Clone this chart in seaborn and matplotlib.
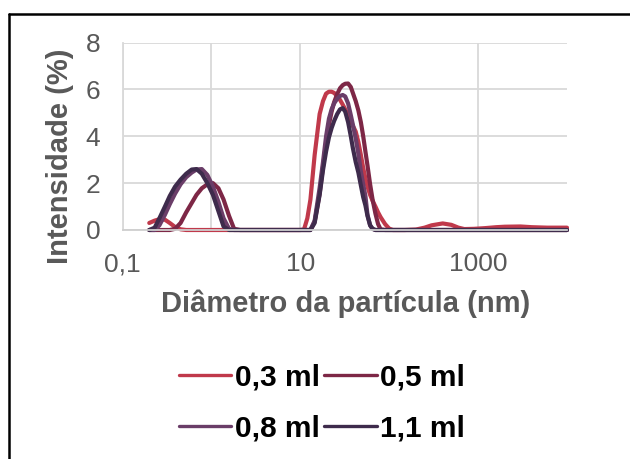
import numpy as np
import pandas as pd
import matplotlib
matplotlib.use("Agg")
import matplotlib.pyplot as plt
import seaborn as sns
from matplotlib.lines import Line2D
from matplotlib.ticker import FixedLocator, LogLocator, NullFormatter, FixedFormatter

# ---------------- data ----------------
sizes_nm = [0.2, 0.23, 0.26, 0.3, 0.34, 0.39, 0.45, 0.52, 0.6, 0.68, 0.78, 0.9, 1.04, 1.2, 1.37, 1.58, 1.8,
            2.1, 2.4, 3, 5, 8, 10,
            11, 12, 13, 14.5, 16.5, 18, 19.5, 21, 22.5, 24, 26, 28, 30, 32, 34.5, 37, 39, 42, 45, 48, 51, 54, 57,
            61, 65, 70, 75, 80, 90, 100, 110,
            150, 200, 250, 300, 400, 500, 600, 700, 900, 1200, 1600, 2000, 3000, 4000, 6000, 8000, 10000]

int_03 = [0.30, 0.40, 0.46, 0.44, 0.30, 0.13, 0.03, 0, 0, 0, 0, 0, 0, 0, 0, 0, 0,
          0, 0, 0, 0, 0, 0,
          0.02, 0.5, 1.3, 3.2, 4.95, 5.5, 5.82, 5.9, 5.9, 5.85, 5.72, 5.55, 5.35, 5.15, 4.9, 4.65, 4.45, 4.2, 3.75,
          3.2, 2.65, 2.2, 1.85, 1.5, 1.25, 1.0, 0.75, 0.55, 0.25, 0.06, 0,
          0, 0.02, 0.1, 0.2, 0.28, 0.22, 0.1, 0.04, 0.05, 0.08, 0.12, 0.14, 0.15, 0.12, 0.1, 0.1, 0.1]

int_05 = [0, 0, 0, 0, 0, 0.05, 0.3, 0.75, 1.15, 1.5, 1.78, 1.95, 2.0, 1.78, 1.3, 0.6, 0.05,
          0, 0, 0, 0, 0, 0,
          0, 0, 0, 0.35, 1.55, 2.7, 3.7, 4.5, 5.05, 5.45, 5.8, 6.05, 6.18, 6.24, 6.25, 6.1, 5.85, 5.5, 5.1,
          4.6, 4.0, 3.35, 2.75, 1.95, 1.3, 0.7, 0.25, 0.03, 0, 0, 0,
          0, 0, 0, 0, 0, 0, 0, 0, 0, 0, 0, 0, 0, 0, 0, 0, 0]

int_08 = [0, 0, 0.2, 0.65, 1.1, 1.55, 1.95, 2.25, 2.45, 2.58, 2.6, 2.35, 1.85, 1.2, 0.5, 0.05, 0,
          0, 0, 0, 0, 0, 0,
          0, 0, 0, 0.4, 1.8, 2.9, 4.0, 4.75, 5.15, 5.4, 5.6, 5.72, 5.76, 5.7, 5.4, 4.9, 4.5, 3.9, 3.25,
          2.5, 1.95, 1.45, 0.65, 0.2, 0.05, 0, 0, 0, 0, 0, 0,
          0, 0, 0, 0, 0, 0, 0, 0, 0, 0, 0, 0, 0, 0, 0, 0, 0]

int_11 = [0, 0.1, 0.5, 1.0, 1.45, 1.85, 2.15, 2.4, 2.58, 2.6, 2.4, 2.0, 1.5, 0.8, 0.15, 0, 0,
          0, 0, 0, 0, 0, 0,
          0, 0, 0, 0.3, 1.5, 2.55, 3.35, 3.95, 4.35, 4.65, 4.95, 5.15, 5.2, 5.05, 4.6, 4.0, 3.5, 2.9, 2.45,
          1.9, 1.4, 1.05, 0.6, 0.2, 0.05, 0, 0, 0, 0, 0, 0,
          0, 0, 0, 0, 0, 0, 0, 0, 0, 0, 0, 0, 0, 0, 0, 0, 0]

series_labels = ["0,3 ml", "0,5 ml", "0,8 ml", "1,1 ml"]
series_colors = ["#C0394B", "#7D2746", "#6A3D68", "#3E2B4C"]

x_ticks = [0.1, 1, 10, 1000]
x_tick_labels = ["0,1", "", "10", "1000"]
y_ticks = [0, 2, 4, 6, 8]
y_tick_labels = ["0", "2", "4", "6", "8"]

# ---------------- style ----------------
sns.set_theme(style="white")
plt.rcParams["font.family"] = ["Liberation Sans", "DejaVu Sans"]

df = pd.DataFrame({
    "size": sizes_nm * 4,
    "intensity": int_03 + int_05 + int_08 + int_11,
    "sample": np.repeat(series_labels, len(sizes_nm)),
})

W, H = 630, 459
fig = plt.figure(figsize=(W / 100, H / 100), dpi=100)
fig.patch.set_facecolor("white")
ax = fig.add_axes([122.5 / W, 1 - 230 / H, (567 - 122.5) / W, (230 - 42.5) / H])

sns.lineplot(data=df, x="size", y="intensity", hue="sample", hue_order=series_labels,
             palette=series_colors, estimator=None, sort=False, linewidth=3.0,
             legend=False, ax=ax)
for ln in ax.lines:
    ln.set_clip_on(False)
    ln.set_solid_capstyle("round")
    ln.set_solid_joinstyle("round")

ax.set_xscale("log")
ax.set_xlim(0.1, 10000)
ax.set_ylim(0, 8)

ax.xaxis.set_major_locator(FixedLocator(x_ticks))
ax.xaxis.set_major_formatter(FixedFormatter(x_tick_labels))
ax.xaxis.set_minor_locator(LogLocator(base=10, subs=[2, 3, 4, 5, 6, 7, 8, 9]))
ax.xaxis.set_minor_formatter(NullFormatter())
ax.yaxis.set_major_locator(FixedLocator(y_ticks))
ax.yaxis.set_major_formatter(FixedFormatter(y_tick_labels))

grid_c = "#D9D9D9"
ax.grid(True, which="major", axis="both", color=grid_c, linewidth=1.3)
ax.set_axisbelow(True)
for s in ["top", "right"]:
    ax.spines[s].set_visible(False)
ax.spines["left"].set_color(grid_c)
ax.spines["left"].set_linewidth(1.3)
ax.spines["bottom"].set_color("#CFCFCF")
ax.spines["bottom"].set_linewidth(1.3)

ax.tick_params(axis="x", which="major", direction="out", length=6, width=1.3, color=grid_c,
               labelsize=19, labelcolor="#595959", pad=10)
ax.tick_params(axis="x", which="minor", direction="in", length=4.5, width=1.0, color="#BFBFBF")
ax.tick_params(axis="y", which="major", length=0, labelsize=19, labelcolor="#595959", pad=16)
ax.set_xlabel("")
ax.set_ylabel("")

fig.text(60 / W, 1 - 156.5 / H, "Intensidade (%)", rotation=90, ha="center", va="center",
         fontsize=21, fontweight="bold", color="#595959")
fig.text(345.5 / W, 1 - 312 / H, "Diâmetro da partícula (nm)", ha="center", va="baseline",
         fontsize=21, fontweight="bold", color="#595959")

# legend laid out row by row as in the reference: (0,3 | 0,5) / (0,8 | 1,1)
order = [0, 2, 1, 3]
handles = [Line2D([0], [0], color=series_colors[i], lw=2.4, solid_capstyle="round") for i in order]
labels_ordered = [series_labels[i] for i in order]
fig.legend(handles, labels_ordered, loc="center", bbox_to_anchor=(322 / W, 1 - 403 / H),
           ncol=2, frameon=False, prop={"weight": "bold", "size": 21.5},
           handlelength=1.75, handletextpad=0.12, columnspacing=0.15, labelspacing=0.78,
           labelcolor="black")

# chart border (top and left edges visible in reference)
fig.add_artist(Line2D([9 / W, 1.0], [1 - 14 / H, 1 - 14 / H], color="black", lw=1.8,
                      transform=fig.transFigure))
fig.add_artist(Line2D([9 / W, 9 / W], [0.0, 1 - 14 / H], color="black", lw=1.8,
                      transform=fig.transFigure))

fig.savefig("out.png", dpi=100, facecolor="white")
